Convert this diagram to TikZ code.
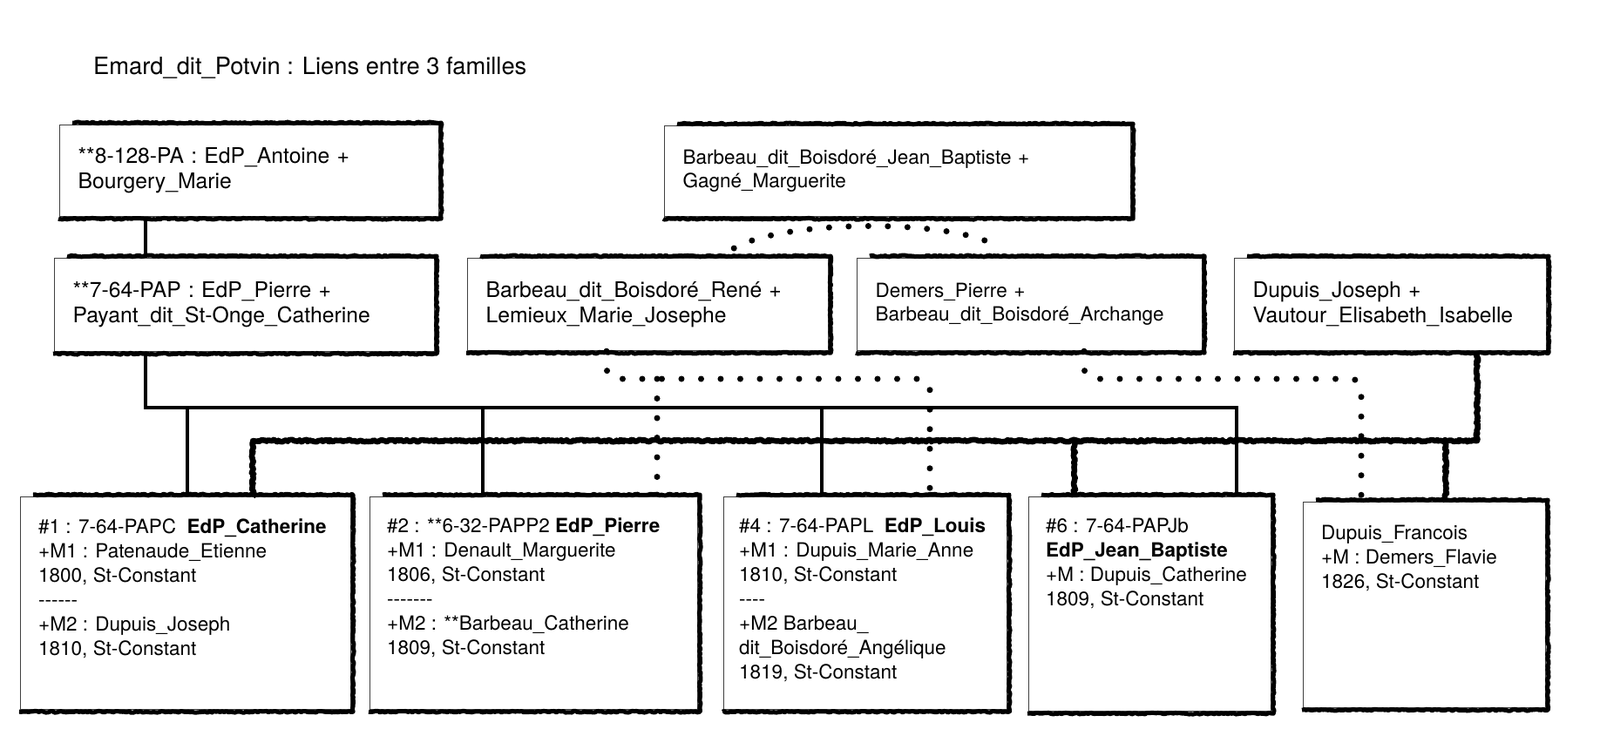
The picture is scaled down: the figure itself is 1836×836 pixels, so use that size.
\documentclass[tikz,border=0pt]{standalone}
\usepackage{fontspec}
\setmainfont{TeX Gyre Heros}[Ligatures=TeXOff]
\usetikzlibrary{positioning,decorations.pathmorphing}

\tikzset{
  couple/.style={draw=black!75, line width=1.2pt, fill=white, align=left,
    inner xsep=21pt, inner ysep=2pt, anchor=north west,
    font=\fontsize{24.7}{29}\selectfont},
  petit/.style={font=\fontsize{22.5}{27}\selectfont},
  enfant/.style={draw=black!75, line width=1.2pt, fill=white, anchor=north west, inner sep=0pt},
  fiche/.style={align=left, inner sep=0pt, font=\fontsize{22.5}{28}\selectfont},
  bord/.style={line width=5pt, line join=round, decorate, decoration={random steps, segment length=2.5pt, amplitude=0.9pt}},
  lien/.style={line width=3.5pt},
  rugueux/.style={line width=6.5pt, line join=round, decorate, decoration={random steps, segment length=2pt, amplitude=1.3pt}},
  pointille/.style={line width=7pt, line cap=round, dash pattern=on 0pt off 22.5pt},
}

\begin{document}
\begin{tikzpicture}[x=1pt,y=-1pt]
    \useasboundingbox (0,0) rectangle (1836,836);

    % Titre
    \node[anchor=west, inner sep=0pt, font=\fontsize{27.3}{32}\selectfont] (titre) at (107,78)
        {Emard\_dit\_Potvin : Liens entre 3 familles};

    % Couples
    \node[couple, text width=393pt, minimum height=105pt] (antoine) at (68,143)
        {**8-128-PA : EdP\_Antoine +\\Bourgery\_Marie};
    \node[couple, text width=394pt, minimum height=107pt] (pierre) at (62,296)
        {**7-64-PAP : EdP\_Pierre +\\Payant\_dit\_St-Onge\_Catherine};
    \node[couple, petit, text width=493pt, minimum height=104pt] (jbarbeau) at (762,144)
        {Barbeau\_dit\_Boisdoré\_Jean\_Baptiste +\\Gagné\_Marguerite};
    \node[couple, text width=372pt, minimum height=106pt] (rene) at (536,296)
        {Barbeau\_dit\_Boisdoré\_René +\\Lemieux\_Marie\_Josephe};
    \node[couple, petit, text width=354pt, minimum height=106pt] (demers) at (983,296)
        {Demers\_Pierre +\\Barbeau\_dit\_Boisdoré\_Archange};
    \node[couple, text width=316pt, minimum height=106pt] (joseph) at (1416,296)
        {Dupuis\_Joseph +\\Vautour\_Elisabeth\_Isabelle};

    % Enfants
    \node[enfant, minimum width=379pt, minimum height=244pt] (cath) at (23,570) {};
    \node[enfant, minimum width=376pt, minimum height=244pt] (pierre2) at (424,570) {};
    \node[enfant, minimum width=325pt, minimum height=244pt] (louis) at (830,570) {};
    \node[enfant, minimum width=278pt, minimum height=246pt] (jb) at (1180,570) {};
    \node[enfant, minimum width=278pt, minimum height=236pt] (francois) at (1495,576) {};

    \node[fiche, below right=25pt and 21pt of cath.north west] (cath-t)
        {\#1 : 7-64-PAPC\ \ \textbf{EdP\_Catherine}\\+M1 : Patenaude\_Etienne\\1800, St-Constant\\------\\+M2 : Dupuis\_Joseph\\1810, St-Constant};
    \node[fiche, below right=25pt and 20pt of pierre2.north west] (pierre2-t)
        {\#2 : **6-32-PAPP2 \textbf{EdP\_Pierre}\\+M1 : Denault\_Marguerite\\1806, St-Constant\\-------\\+M2 : **Barbeau\_Catherine\\1809, St-Constant};
    \node[fiche, below right=25pt and 18pt of louis.north west] (louis-t)
        {\#4 : 7-64-PAPL\ \ \textbf{EdP\_Louis}\\+M1 : Dupuis\_Marie\_Anne\\1810, St-Constant\\----\\+M2 Barbeau\_\\dit\_Boisdoré\_Angélique\\1819, St-Constant};
    \node[fiche, below right=25pt and 20pt of jb.north west] (jb-t)
        {\#6 : 7-64-PAPJb\\\textbf{EdP\_Jean\_Baptiste}\\+M : Dupuis\_Catherine\\1809, St-Constant};
    \node[fiche, below right=27pt and 21pt of francois.north west] (francois-t)
        {Dupuis\_Francois\\+M : Demers\_Flavie\\1826, St-Constant};

    % Bords
    \foreach \n in {antoine,pierre,jbarbeau,rene,demers,joseph,cath,pierre2,louis,jb,francois}
        \draw[bord] ([xshift=15pt,yshift=2pt]\n.north west) -- ([xshift=2pt,yshift=2pt]\n.north east)
            -- ([xshift=2pt,yshift=-2pt]\n.south east) -- ([xshift=-1pt,yshift=-2pt]\n.south west);

    % Famille Dupuis
    \draw[rugueux] (joseph.south -| 1695,0) |- (290,506) -- (cath.north -| 290,0);
    \foreach \x/\n in {1233/jb, 1659/francois}
        \draw[rugueux] (\x,506) -- (\n.north -| \x,0);

    % Famille Emard_dit_Potvin
    \draw[lien] (antoine.south -| 167,0) -- (pierre.north -| 167,0);
    \coordinate (bus) at (167,468);
    \draw[lien] (pierre.south -| bus) -- (bus) -- (1419,468) -- (jb.north -| 1419,0);
    \foreach \x/\n in {215/cath, 554/pierre2, 943/louis}
        \draw[lien] (\x,468) -- (\n.north -| \x,0);

    % Famille Barbeau
    \draw[pointille] ([xshift=-109pt,yshift=11pt]rene.north east)
        .. controls +(59,-34) and +(-48,-34) .. ([xshift=165pt,yshift=11pt]demers.north west);
    \draw[pointille, rounded corners=12pt] (rene.south -| 696,0) |- (1067,435) -- (louis.north -| 1067,0);
    \draw[pointille] (754,435) -- (pierre2.north -| 754,0);
    \draw[pointille, rounded corners=12pt] (demers.south -| 1244,0) |- (1562,435) -- (francois.north -| 1562,0);
\end{tikzpicture}
\end{document}
